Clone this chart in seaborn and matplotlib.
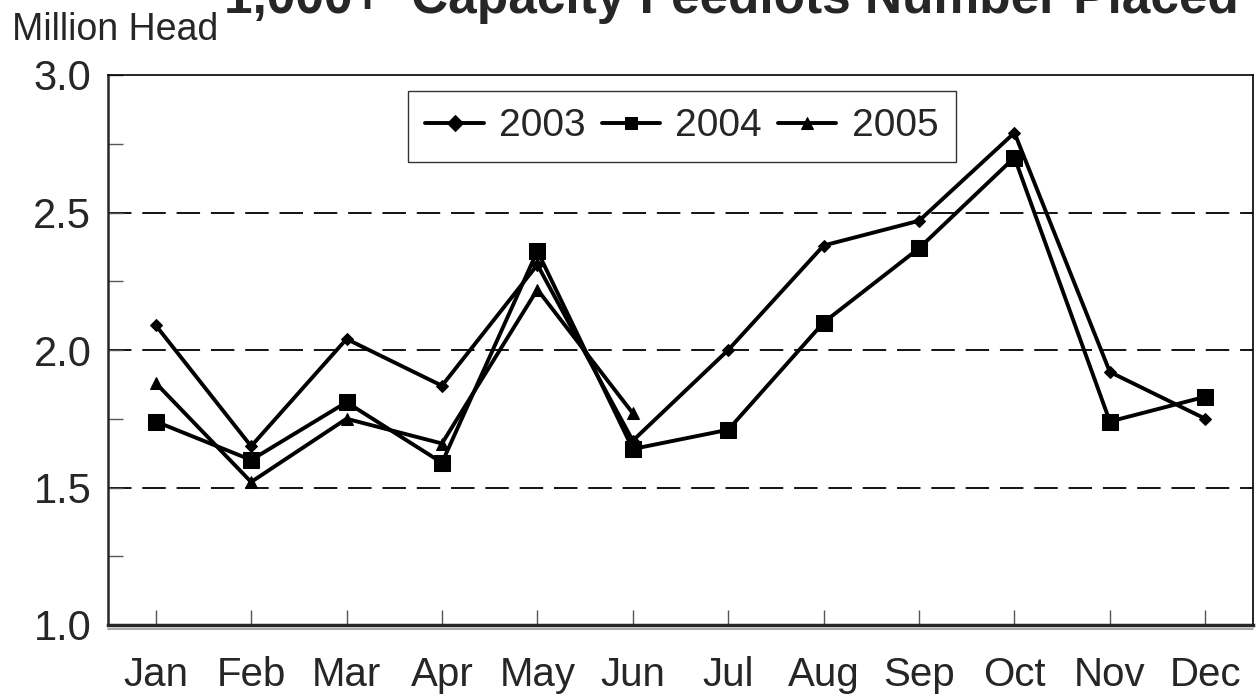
import pandas as pd
import matplotlib
matplotlib.use('Agg')
import matplotlib.pyplot as plt
import seaborn as sns
from matplotlib.ticker import MultipleLocator, FormatStrFormatter

months = ['Jan', 'Feb', 'Mar', 'Apr', 'May', 'Jun', 'Jul', 'Aug', 'Sep', 'Oct', 'Nov', 'Dec']
placed_2003 = [2.09, 1.65, 2.04, 1.87, 2.31, 1.67, 2.00, 2.38, 2.47, 2.79, 1.92, 1.75]
placed_2004 = [1.74, 1.60, 1.81, 1.59, 2.36, 1.64, 1.71, 2.10, 2.37, 2.70, 1.74, 1.83]
placed_2005 = [1.88, 1.52, 1.75, 1.66, 2.22, 1.77]
years = ['2003', '2004', '2005']

rows = []
for yr, vals in zip(years, [placed_2003, placed_2004, placed_2005]):
    for i, v in enumerate(vals):
        rows.append({'month': i, 'year': yr, 'head': v})
df = pd.DataFrame(rows)

sns.set_style('white')
plt.rcParams['font.family'] = ['Liberation Sans', 'DejaVu Sans']

fig = plt.figure(figsize=(12.57, 6.96), dpi=100)
ax = fig.add_axes([108 / 1257, 71 / 696, 1145 / 1257, 550 / 696])

sns.lineplot(data=df, x='month', y='head', hue='year', style='year',
             palette=['black', 'black', 'black'],
             markers={'2003': 'D', '2004': 's', '2005': '^'},
             dashes=False, linewidth=2.8, markersize=8,
             markeredgecolor='black', ax=ax)

# marker sizes closer to the original
for line, ms in zip(ax.lines, [6.5, 11, 8.5]):
    line.set_markersize(ms)

ax.set_xlim(-0.5, 11.5)
ax.set_ylim(1.0, 3.0)
ax.set_xticks(range(12))
ax.set_xticklabels(months)
ax.yaxis.set_major_locator(MultipleLocator(0.5))
ax.yaxis.set_minor_locator(MultipleLocator(0.25))
ax.yaxis.set_major_formatter(FormatStrFormatter('%.1f'))
ax.set_xlabel('')
ax.set_ylabel('')

for yv in [1.5, 2.0, 2.5]:
    ax.axhline(yv, color='black', linewidth=1.3, linestyle=(0, (13, 6)), zorder=0)

ax.tick_params(axis='x', direction='in', length=11, width=1, color='#555555',
               labelsize=29, pad=22, bottom=True)
ax.tick_params(axis='y', which='both', direction='in', length=11, width=1,
               color='#555555', labelsize=30, pad=12, left=True)
ax.tick_params(axis='y', which='minor', labelleft=False)

for side in ['top', 'right']:
    ax.spines[side].set_linewidth(1.2)
    ax.spines[side].set_color('black')
ax.spines['left'].set_linewidth(1.8)
ax.spines['bottom'].set_linewidth(2.5)
ax.plot([0, 1], [-0.007, -0.007], transform=ax.transAxes, color='#999999',
        linewidth=1.2, clip_on=False)

handles, labels = ax.get_legend_handles_labels()
leg = ax.legend(handles, labels, loc='upper left', bbox_to_anchor=(0.262, 0.971),
                borderaxespad=0, ncol=3, frameon=True, fancybox=False,
                prop={'size': 28},
                handlelength=1.5, handletextpad=0.4, columnspacing=0.4,
                borderpad=0.45)
leg.get_frame().set_edgecolor('black')
leg.get_frame().set_linewidth(1.0)
for h in leg.get_lines():
    h.set_linewidth(2.8)

fig.text(224 / 1257, 1 - 13 / 696, '1,000+  Capacity Feedlots Number Placed',
         fontsize=37, fontweight='bold', ha='left', va='baseline')
fig.text(12 / 1257, 1 - 40 / 696, 'Million Head', fontsize=27,
         ha='left', va='baseline')

fig.savefig('out.png', dpi=100)
